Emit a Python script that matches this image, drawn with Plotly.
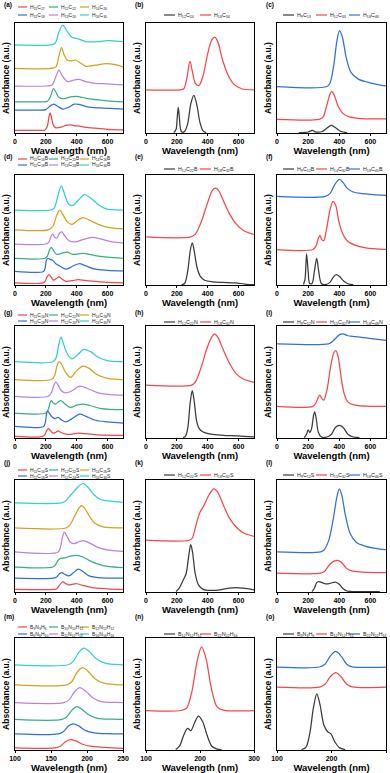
import plotly.graph_objects as go

# (wavelength nm, absorbance a.u. as % of panel height, stacked offsets included)
a_h11c17 = [(0, 2), (150, 2), (195, 2.3), (210, 6), (220, 14), (228, 18), (236, 14), (248, 7), (262, 4.5), (300, 5), (330, 6.5), (360, 7), (400, 6), (450, 5), (520, 4), (600, 3), (700, 2.5)]
a_h11c18 = [(0, 20.5), (150, 20.5), (200, 21), (225, 24), (250, 26), (275, 24), (310, 21.5), (345, 23), (385, 26), (420, 25.5), (470, 23.5), (550, 22.5), (620, 22), (700, 21.5)]
a_h12c22 = [(0, 28), (170, 28), (210, 28.5), (230, 33), (250, 40), (265, 37), (285, 32), (320, 31), (360, 32.5), (400, 33), (440, 32), (500, 30.5), (600, 29), (700, 28)]
a_h13c20 = [(0, 42.5), (200, 42.5), (240, 43.5), (262, 50), (285, 57), (305, 52), (340, 46.5), (370, 47.5), (410, 48.5), (460, 46.5), (520, 45), (600, 44.5), (700, 43.5)]
a_h14c26 = [(0, 58.5), (230, 58.5), (265, 60), (285, 70), (302, 77.5), (318, 71), (340, 66), (365, 65.5), (395, 66), (430, 63), (460, 60.5), (520, 61.5), (590, 63), (650, 62), (700, 60)]
a_h16c30 = [(0, 80), (230, 80), (260, 81.5), (285, 92), (310, 98), (335, 93), (370, 87), (410, 85.5), (460, 83), (540, 83), (600, 84), (650, 83.5), (700, 83)]

b_h12c24 = [(180, 0), (195, 3), (203, 15), (209, 23), (216, 14), (224, 3), (232, 0.5), (250, 1), (270, 8), (290, 26), (310, 34), (330, 25), (350, 9), (370, 1.5), (390, 0)]
b_h16c34 = [(0, 39), (220, 39), (245, 40), (265, 50), (285, 65), (300, 56), (320, 45), (343, 43), (370, 52), (400, 72), (425, 84), (445, 87), (465, 83), (495, 67), (530, 53), (570, 44), (620, 40), (700, 39)]

c_h9c13 = [(140, 0), (200, 0.5), (228, 2), (250, 0.5), (290, 1), (320, 4), (348, 6.5), (380, 4), (410, 1), (450, 0)]
c_h12c33 = [(0, 12), (270, 12), (295, 14), (320, 25), (340, 35), (352, 37.5), (368, 34), (390, 25), (420, 18), (460, 14.5), (520, 13), (700, 12.5)]
c_h18c46 = [(0, 42), (320, 42), (340, 45), (365, 62), (385, 84), (402, 93), (420, 87), (445, 68), (475, 55), (520, 49), (580, 46), (640, 44), (700, 42.5)]

d_h11c16b = [(0, 1.5), (180, 1.5), (195, 3), (208, 7), (220, 9), (233, 7), (250, 4), (268, 5.5), (285, 7), (300, 5.5), (330, 3), (370, 3.5), (410, 4.5), (460, 3.5), (550, 2.5), (700, 1.5)]
d_h11c18b = [(0, 12), (185, 12), (195, 15), (203, 22), (212, 24), (228, 23), (245, 22), (265, 19), (290, 17), (330, 14), (370, 16.5), (415, 19), (460, 17), (520, 14), (600, 13), (700, 12.5)]
d_h12c22b = [(0, 24), (195, 24), (210, 26), (225, 32), (235, 34), (250, 31), (270, 27.5), (300, 28.5), (340, 29.5), (375, 27.5), (440, 28.5), (520, 26.5), (600, 25), (700, 24)]
d_h13c24b = [(0, 37), (200, 37), (220, 39), (235, 44.5), (245, 46), (258, 43), (270, 42.5), (290, 47), (303, 48), (320, 45), (350, 40), (390, 39), (440, 41), (500, 43), (560, 41.5), (630, 39), (700, 38)]
d_h14c26b = [(0, 50), (215, 50), (245, 53), (270, 63), (290, 68), (310, 64), (340, 57), (370, 55), (410, 59), (440, 61), (480, 59), (540, 55), (610, 52), (700, 51)]
d_h16c30b = [(0, 68), (230, 68), (255, 70), (280, 82), (300, 90), (318, 84), (345, 74), (370, 72), (410, 77), (450, 82), (490, 79), (540, 73), (590, 69), (700, 68)]

e_h12c22b = [(230, 0), (250, 1), (270, 12), (288, 32), (300, 38), (312, 31), (330, 16), (350, 8), (380, 4), (430, 2.5), (500, 2), (580, 1.5), (640, 0.5), (700, 0)]
e_h18c32b = [(0, 43.5), (290, 43.5), (320, 46), (360, 58), (400, 75), (430, 86), (450, 88), (470, 86), (500, 77), (540, 65), (580, 56), (630, 49.5), (700, 45.5)]

f_h9c12b = [(170, 0), (180, 5), (190, 28), (200, 12), (210, 1), (225, 1), (240, 12), (255, 24), (268, 12), (285, 1), (310, 0), (340, 2), (365, 7.5), (382, 9), (400, 7.5), (430, 3), (460, 0.5), (490, 0)]
f_h14c32b = [(0, 32), (230, 32), (250, 35), (265, 42), (275, 45), (288, 41), (300, 40), (320, 52), (340, 68), (360, 76), (378, 72), (395, 59), (420, 47), (450, 40), (500, 36), (570, 33.5), (700, 32)]
f_h18c45b = [(0, 80.5), (310, 80.5), (340, 83), (370, 91), (400, 96), (425, 93), (450, 88), (490, 84.5), (550, 83), (620, 82), (700, 81.5)]

g_h11c16n = [(0, 1), (180, 1), (195, 3), (205, 6), (215, 8), (228, 6.5), (245, 4), (262, 4.5), (280, 6), (298, 4.5), (330, 3), (370, 3), (410, 4), (450, 3.5), (530, 2.5), (700, 2)]
g_h11c18n = [(0, 10), (185, 10), (197, 14), (203, 20), (210, 24), (222, 22), (240, 18.5), (260, 17), (280, 18), (300, 16), (330, 14), (370, 17), (420, 21), (460, 19), (520, 15.5), (600, 14), (700, 13)]
g_h12c22n = [(0, 22), (200, 22), (215, 25), (228, 31.5), (236, 33), (248, 31), (262, 30), (285, 32.5), (300, 33), (325, 30), (360, 27), (400, 29), (440, 30), (490, 28.5), (560, 26), (700, 25)]
g_h12c20n = [(0, 37), (215, 37), (235, 40), (252, 47), (265, 50), (280, 47), (300, 42), (330, 40), (370, 42), (420, 46), (470, 44), (540, 40), (620, 38.5), (700, 38)]
g_h14c28n = [(0, 52), (235, 52), (255, 55), (272, 64), (285, 68), (300, 66), (330, 58), (360, 54), (400, 60), (440, 64), (480, 62), (530, 56.5), (600, 53), (700, 52)]
g_h16c30n = [(0, 68), (245, 68), (265, 71), (283, 83), (298, 90), (312, 85), (335, 76), (368, 70.5), (405, 74), (445, 79), (490, 77), (540, 72), (600, 69), (700, 68)]

h_h12c22n = [(240, 0), (255, 1), (270, 8), (287, 32), (300, 42), (312, 33), (328, 15), (345, 8), (370, 5), (420, 3), (500, 2), (600, 1.5), (700, 0.5)]
h_h18c32n = [(0, 47), (295, 47), (320, 50), (360, 64), (400, 82), (430, 91), (445, 93), (465, 90), (500, 79), (540, 67), (580, 58), (630, 52.5), (700, 49.5)]

i_h9c12n = [(175, 0), (190, 3), (200, 7), (210, 4.5), (222, 8), (235, 20), (242, 23), (252, 17), (265, 5), (285, 0.5), (320, 0.5), (350, 3), (375, 9), (400, 11), (425, 9), (455, 3), (490, 0.5), (530, 0)]
i_h15c32n = [(0, 28), (230, 28), (250, 31), (265, 36), (275, 38), (288, 35), (300, 33.5), (320, 42), (345, 64), (365, 76), (378, 78), (392, 73), (410, 56), (430, 40), (455, 32), (500, 29), (600, 28), (700, 28)]
i_h18c48n = [(0, 84), (330, 84), (350, 85.5), (380, 89.5), (405, 92.5), (425, 93), (450, 91.5), (500, 90.5), (560, 89.5), (620, 88.5), (700, 87)]

j_h11c16s = [(0, 2), (250, 2), (270, 2.5), (290, 6), (310, 9), (325, 7.5), (345, 6), (370, 6.5), (400, 7), (440, 5.5), (500, 3.5), (600, 2.5), (700, 2)]
j_h11c18s = [(0, 12), (250, 12), (270, 13), (288, 16), (305, 17), (322, 15.5), (350, 14), (380, 17), (410, 20), (440, 18), (480, 14), (540, 12.5), (700, 12)]
j_h12c22s = [(0, 22), (245, 22), (262, 24), (285, 29), (305, 30), (330, 30.5), (365, 32), (400, 32.5), (440, 31), (480, 28), (530, 25), (600, 22.5), (700, 21.5)]
j_h12c24s = [(0, 35.5), (280, 35.5), (295, 40), (308, 49), (320, 53), (335, 50), (360, 44), (385, 43), (420, 45), (450, 45.5), (490, 43), (550, 39), (620, 37), (700, 36)]
j_h14c26s = [(0, 57), (330, 57), (355, 59.5), (385, 67), (415, 75), (430, 77), (450, 75), (480, 68), (520, 61), (570, 58), (700, 57)]
j_h16c30s = [(0, 79.5), (300, 79.5), (325, 81), (365, 87), (410, 94), (440, 97), (470, 94), (510, 87), (555, 82.5), (620, 81), (700, 80)]

k_h12c22s = [(195, 0), (215, 3), (240, 10), (260, 16), (275, 30), (290, 42), (302, 35), (318, 17), (340, 6), (370, 2), (420, 1), (480, 1.5), (540, 3), (580, 3.5), (630, 3), (700, 1.5)]
k_h18c32s = [(0, 46), (280, 46), (300, 48), (325, 60), (350, 71), (375, 77), (410, 87), (440, 92), (465, 89), (500, 78), (540, 66), (590, 57), (640, 52), (700, 49.5)]

l_h9c12s = [(225, 0), (240, 3), (255, 8), (268, 9), (290, 8), (320, 6.8), (345, 7.5), (375, 8.5), (400, 6.5), (425, 2.5), (450, 0.5), (480, 0), (660, 0)]
l_h15c32s = [(0, 16.5), (280, 16.5), (305, 18), (340, 24.5), (370, 27.5), (390, 28), (415, 26), (445, 21), (480, 18.5), (550, 17.5), (700, 17)]
l_h18c46s = [(0, 35.5), (280, 35.5), (300, 37), (330, 45), (360, 64), (385, 85), (400, 92), (415, 87), (440, 68), (470, 52), (510, 44), (560, 41), (620, 39), (700, 37.5)]

m_b3n3h6 = [(100, 1.5), (155, 1.5), (163, 3), (170, 7), (177, 9), (185, 7.5), (195, 4.5), (205, 3), (225, 2), (250, 1)]
m_b6n6h10 = [(100, 14), (160, 14), (167, 16), (175, 21.5), (181, 23), (189, 21), (198, 17), (210, 15), (230, 14.2), (250, 14)]
m_b10n10h12 = [(100, 27), (165, 27), (172, 29.5), (180, 36), (186, 38.5), (193, 36), (203, 31), (215, 28), (235, 27.2), (250, 27)]
m_b11n11h13 = [(100, 42), (168, 42), (175, 44.5), (183, 52), (190, 55.5), (198, 52.5), (208, 46.5), (220, 43), (240, 42.2), (250, 42)]
m_b12n12h12 = [(100, 58), (172, 58), (179, 61), (187, 70), (194, 73.5), (201, 70.5), (211, 63.5), (223, 59.5), (240, 58.3), (250, 58)]
m_b16n16h16 = [(100, 76), (174, 76), (181, 79), (189, 87.5), (196, 91), (203, 88), (213, 81.5), (225, 77.5), (240, 76.3), (250, 76)]

n_b12n12h12 = [(155, 0), (162, 3), (170, 13), (177, 19), (183, 17), (190, 24), (197, 30), (205, 25), (213, 13), (222, 3), (232, 0.3), (240, 0)]
n_b22n22h16 = [(100, 35), (165, 35), (175, 37), (185, 52), (195, 80), (203, 92), (211, 82), (221, 55), (232, 38), (245, 35.2), (300, 35)]

o_b3n3h6 = [(145, 0), (153, 2), (160, 14), (167, 38), (173, 50), (179, 40), (186, 22), (193, 16), (199, 14), (206, 7), (215, 1.5), (225, 0)]
o_b12n12h12 = [(100, 56), (178, 56), (188, 58.5), (198, 65.5), (208, 69), (218, 65), (228, 58.5), (238, 56.2), (300, 56)]
o_b22n22h16 = [(100, 74), (178, 74), (188, 76.5), (198, 84), (208, 88), (218, 83.5), (228, 76.5), (238, 74.2), (300, 74)]

RED, GREEN, GOLD = "#F4474A", "#35B07F", "#D6A11D"
BLUE, PURPLE, CYAN = "#2F70DA", "#B883E0", "#2FD0CE"
BLACK = "#3A3A3A"
FONT = "Liberation Sans, Arial"

NM = ((0, 700), [0, 200, 400, 600])
BN1 = ((100, 250), [100, 150, 200, 250])
BN2 = ((100, 300), [100, 200, 300])

panels = [
    ("(a)", NM, [("H<sub>11</sub>C<sub>17</sub>", a_h11c17, RED), ("H<sub>12</sub>C<sub>22</sub>", a_h12c22, GREEN),
                 ("H<sub>14</sub>C<sub>26</sub>", a_h14c26, GOLD), ("H<sub>11</sub>C<sub>18</sub>", a_h11c18, BLUE),
                 ("H<sub>13</sub>C<sub>20</sub>", a_h13c20, PURPLE), ("H<sub>16</sub>C<sub>30</sub>", a_h16c30, CYAN)]),
    ("(b)", NM, [("H<sub>12</sub>C<sub>24</sub>", b_h12c24, BLACK), ("H<sub>16</sub>C<sub>34</sub>", b_h16c34, RED)]),
    ("(c)", NM, [("H<sub>9</sub>C<sub>13</sub>", c_h9c13, BLACK), ("H<sub>12</sub>C<sub>33</sub>", c_h12c33, RED),
                 ("H<sub>18</sub>C<sub>46</sub>", c_h18c46, BLUE)]),
    ("(d)", NM, [("H<sub>11</sub>C<sub>16</sub>B", d_h11c16b, RED), ("H<sub>12</sub>C<sub>22</sub>B", d_h12c22b, GREEN),
                 ("H<sub>14</sub>C<sub>26</sub>B", d_h14c26b, GOLD), ("H<sub>11</sub>C<sub>18</sub>B", d_h11c18b, BLUE),
                 ("H<sub>13</sub>C<sub>24</sub>B", d_h13c24b, PURPLE), ("H<sub>16</sub>C<sub>30</sub>B", d_h16c30b, CYAN)]),
    ("(e)", NM, [("H<sub>12</sub>C<sub>22</sub>B", e_h12c22b, BLACK), ("H<sub>18</sub>C<sub>32</sub>B", e_h18c32b, RED)]),
    ("(f)", NM, [("H<sub>9</sub>C<sub>12</sub>B", f_h9c12b, BLACK), ("H<sub>14</sub>C<sub>32</sub>B", f_h14c32b, RED),
                 ("H<sub>18</sub>C<sub>45</sub>B", f_h18c45b, BLUE)]),
    ("(g)", NM, [("H<sub>11</sub>C<sub>16</sub>N", g_h11c16n, RED), ("H<sub>12</sub>C<sub>22</sub>N", g_h12c22n, GREEN),
                 ("H<sub>14</sub>C<sub>28</sub>N", g_h14c28n, GOLD), ("H<sub>11</sub>C<sub>18</sub>N", g_h11c18n, BLUE),
                 ("H<sub>12</sub>C<sub>20</sub>N", g_h12c20n, PURPLE), ("H<sub>16</sub>C<sub>30</sub>N", g_h16c30n, CYAN)]),
    ("(h)", NM, [("H<sub>12</sub>C<sub>22</sub>N", h_h12c22n, BLACK), ("H<sub>18</sub>C<sub>32</sub>N", h_h18c32n, RED)]),
    ("(i)", NM, [("H<sub>9</sub>C<sub>12</sub>N", i_h9c12n, BLACK), ("H<sub>15</sub>C<sub>32</sub>N", i_h15c32n, RED),
                 ("H<sub>18</sub>C<sub>48</sub>N", i_h18c48n, BLUE)]),
    ("(j)", NM, [("H<sub>11</sub>C<sub>16</sub>S", j_h11c16s, RED), ("H<sub>12</sub>C<sub>22</sub>S", j_h12c22s, GREEN),
                 ("H<sub>14</sub>C<sub>26</sub>S", j_h14c26s, GOLD), ("H<sub>11</sub>C<sub>18</sub>S", j_h11c18s, BLUE),
                 ("H<sub>12</sub>C<sub>24</sub>S", j_h12c24s, PURPLE), ("H<sub>16</sub>C<sub>30</sub>S", j_h16c30s, CYAN)]),
    ("(k)", NM, [("H<sub>12</sub>C<sub>22</sub>S", k_h12c22s, BLACK), ("H<sub>18</sub>C<sub>32</sub>S", k_h18c32s, RED)]),
    ("(l)", NM, [("H<sub>9</sub>C<sub>12</sub>S", l_h9c12s, BLACK), ("H<sub>15</sub>C<sub>32</sub>S", l_h15c32s, RED),
                 ("H<sub>18</sub>C<sub>46</sub>S", l_h18c46s, BLUE)]),
    ("(m)", BN1, [("B<sub>3</sub>N<sub>3</sub>H<sub>6</sub>", m_b3n3h6, RED), ("B<sub>10</sub>N<sub>10</sub>H<sub>12</sub>", m_b10n10h12, GREEN),
                  ("B<sub>12</sub>N<sub>12</sub>H<sub>12</sub>", m_b12n12h12, GOLD), ("B<sub>6</sub>N<sub>6</sub>H<sub>10</sub>", m_b6n6h10, BLUE),
                  ("B<sub>11</sub>N<sub>11</sub>H<sub>13</sub>", m_b11n11h13, PURPLE), ("B<sub>16</sub>N<sub>16</sub>H<sub>16</sub>", m_b16n16h16, CYAN)]),
    ("(n)", BN2, [("B<sub>12</sub>N<sub>12</sub>H<sub>12</sub>", n_b12n12h12, BLACK), ("B<sub>22</sub>N<sub>22</sub>H<sub>16</sub>", n_b22n22h16, RED)]),
    ("(o)", BN2, [("B<sub>3</sub>N<sub>3</sub>H<sub>6</sub>", o_b3n3h6, BLACK), ("B<sub>12</sub>N<sub>12</sub>H<sub>12</sub>", o_b12n12h12, RED),
                  ("B<sub>22</sub>N<sub>22</sub>H<sub>16</sub>", o_b22n22h16, BLUE)]),
]

W, H = 390, 773
COL_X = [(15, 123), (146, 254), (277, 386)]
ROW_Y = [(23, 133), (175, 285), (326, 438), (480, 592), (638, 750)]
LABEL_Y = [5, 157, 313, 463, 617]
LEG6_Y = [(7, 15), (159, 165), (315, 321), (470, 476), (627, 634)]
LEG1_Y = [15, 169, 322, 475, 634]

fig = go.Figure()
shapes, annots = [], []


def px(x):
    return x / W


def py(y):
    return 1 - y / H


for k, (label, (xr, xt), curves) in enumerate(panels):
    r, c = divmod(k, 3)
    n = "" if k == 0 else str(k + 1)
    x0, x1 = COL_X[c]
    y0, y1 = ROW_Y[r]
    for name, pts, color in curves:
        fig.add_trace(go.Scatter(
            x=[p[0] for p in pts], y=[p[1] for p in pts], mode="lines",
            line=dict(color=color, width=1.25, shape="spline", smoothing=0.9),
            xaxis="x" + n, yaxis="y" + n, showlegend=False, hoverinfo="skip"))
    fig.layout["xaxis" + n] = dict(
        domain=[px(x0), px(x1)], anchor="y" + n, range=list(xr), tickvals=xt,
        automargin=False,
        ticks="outside", ticklen=2, tickwidth=1, tickcolor="black",
        showline=True, linecolor="black", linewidth=1, mirror=True,
        showgrid=False, zeroline=False,
        tickfont=dict(family=FONT, size=7, color="black", weight="bold"),
        title=dict(text="Wavelength (nm)", standoff=0,
                   font=dict(family=FONT, size=9.5, color="black", weight="bold")))
    fig.layout["yaxis" + n] = dict(
        domain=[py(y1), py(y0)], anchor="x" + n, range=[-0.4, 100],
        automargin=False,
        showticklabels=False, ticks="", showline=True, linecolor="black",
        linewidth=1, mirror=True, showgrid=False, zeroline=False,
        title=dict(text="Absorbance (a.u.)", standoff=3,
                   font=dict(family=FONT, size=8.5, color="black", weight="bold")))
    annots.append(dict(text=label, x=px(COL_X[c][0] - 13), y=py(LABEL_Y[r]), xref="paper", yref="paper",
                       xanchor="left", yanchor="middle", showarrow=False,
                       font=dict(family=FONT, size=6.5, color="black", weight="bold")))
    # legend keys
    key, fs = 11, 5.3
    if len(curves) == 6:
        key, fs = 9, 5
        offs = [3, 34, 65]
        slots = [(x0 + offs[i % 3], LEG6_Y[r][i // 3]) for i in range(6)]
    elif len(curves) == 3:
        slots = [(x0 + o, LEG1_Y[r]) for o in (6, 39, 72)]
    else:
        slots = [(x0 + o, LEG1_Y[r]) for o in (18, 54)]
    for (name, pts, color), (lx, ly) in zip(curves, slots):
        shapes.append(dict(type="line", xref="paper", yref="paper", x0=px(lx), x1=px(lx + key),
                           y0=py(ly), y1=py(ly), line=dict(color=color, width=1.2)))
        annots.append(dict(text=name, x=px(lx + key + 1), y=py(ly), xref="paper", yref="paper",
                           xanchor="left", yanchor="middle", showarrow=False,
                           font=dict(family=FONT, size=fs, color="#222")))

fig.update_layout(
    width=W, height=H, margin=dict(l=0, r=0, t=0, b=0),
    paper_bgcolor="white", plot_bgcolor="white", showlegend=False,
    shapes=shapes, annotations=annots)

fig.write_html("out.html", config={"displayModeBar": False},
               post_script="document.body.style.margin = '0';")
